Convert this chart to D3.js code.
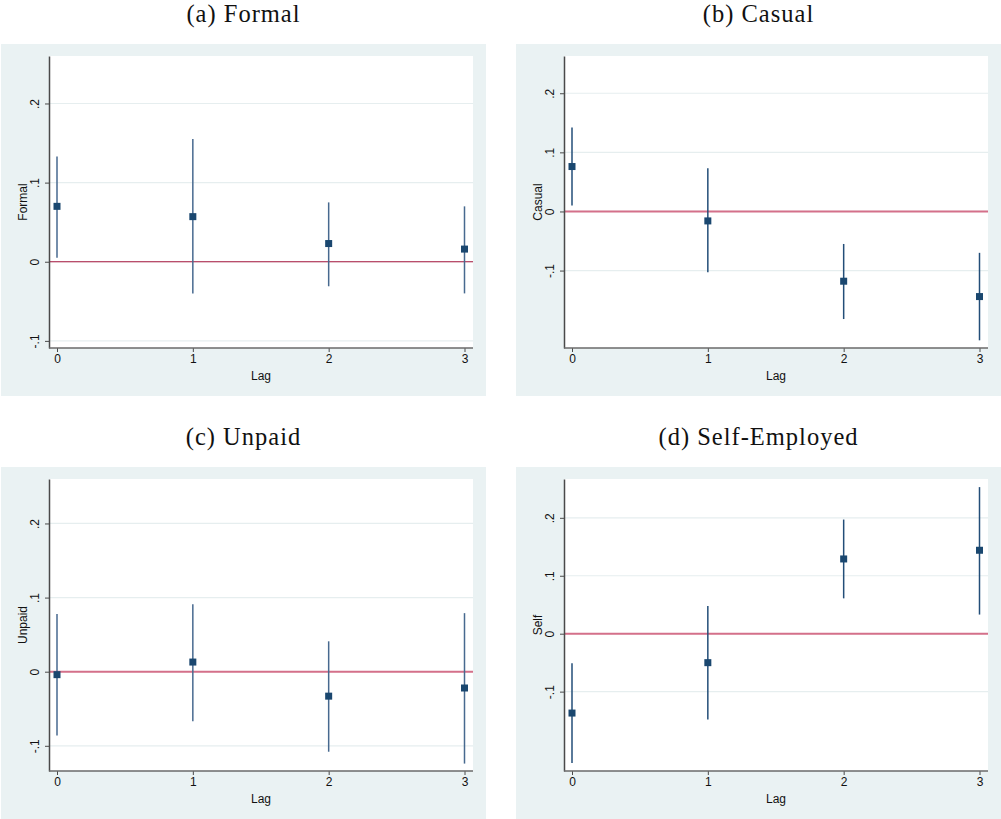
<!DOCTYPE html>
<html>
<head>
<meta charset="utf-8">
<script src="https://cdn.jsdelivr.net/npm/d3@7"></script>
<style>
  body { margin: 0; background: #fff; }
  svg { display: block; }
</style>
</head>
<body>
<div id="chart"></div>
<script>
// data
var LAGS = [0, 1, 2, 3];
var PANEL_TITLES = ["(a) Formal", "(b) Casual", "(c) Unpaid", "(d) Self-Employed"];
var Y_LABELS = ["Formal", "Casual", "Unpaid", "Self"];
var Y_TICKS = [-0.1, 0, 0.1, 0.2];
var Y_TICK_LABELS = ["-.1", "0", ".1", ".2"];
var X_LABEL = "Lag";

var FORMAL_COEF = [0.070, 0.057, 0.023, 0.016];
var FORMAL_LO   = [0.005, -0.040, -0.031, -0.040];
var FORMAL_HI   = [0.133, 0.155, 0.075, 0.070];

var CASUAL_COEF = [0.076, -0.016, -0.118, -0.144];
var CASUAL_LO   = [0.010, -0.103, -0.182, -0.218];
var CASUAL_HI   = [0.142, 0.073, -0.055, -0.070];

var UNPAID_COEF = [-0.004, 0.013, -0.033, -0.022];
var UNPAID_LO   = [-0.086, -0.067, -0.108, -0.124];
var UNPAID_HI   = [0.078, 0.091, 0.041, 0.079];

var SELF_COEF = [-0.137, -0.050, 0.129, 0.144];
var SELF_LO   = [-0.223, -0.148, 0.061, 0.033];
var SELF_HI   = [-0.051, 0.048, 0.197, 0.253];

// y ranges of each panel
var Y_MIN = [-0.109, -0.231, -0.134, -0.237];
var Y_MAX = [0.260, 0.263, 0.260, 0.267];

var COEFS = [FORMAL_COEF, CASUAL_COEF, UNPAID_COEF, SELF_COEF];
var LOWS = [FORMAL_LO, CASUAL_LO, UNPAID_LO, SELF_LO];
var HIGHS = [FORMAL_HI, CASUAL_HI, UNPAID_HI, SELF_HI];

///LAYOUT
var W = 1001, H = 819;
var boxX = [1, 516, 1, 516];
var boxY = [44, 44, 467, 467];
var boxW = 485, boxH = 352;
var plotL = 48, plotT = 12, plotW = 424, plotH = 292;

var bg = "#eaf2f3";
var navy = "#1a476f";
var zeroStyle = [
  {color: "#a8173f", width: 1.2},
  {color: "#d4708a", width: 2},
  {color: "#d4708a", width: 2},
  {color: "#d4708a", width: 2}
];
var ciColor = ["#47698f", "#234e78", "#47698f", "#234e78"];

var svg = d3.select("#chart")
    .append("svg")
    .attr("width", W)
    .attr("height", H);

svg.append("rect").attr("width", W).attr("height", H).attr("fill", "#fff");

var x = d3.scaleLinear().domain([0, 3]).range([8, plotW - 8.5]);

for (var i = 0; i < 4; i++) {
  drawPanel(i);
}

function drawPanel(i) {
  var gx = boxX[i], gy = boxY[i];

  // panel title above the box
  svg.append("text")
      .attr("x", gx + boxW / 2)
      .attr("y", gy - 22)
      .attr("text-anchor", "middle")
      .attr("font-family", "'Liberation Serif', 'DejaVu Serif', serif")
      .attr("font-size", 24.5)
      .attr("letter-spacing", 1)
      .attr("fill", "#111")
      .text(PANEL_TITLES[i]);

  var box = svg.append("g").attr("transform", "translate(" + gx + "," + gy + ")");
  box.append("rect")
      .attr("width", boxW)
      .attr("height", boxH)
      .attr("fill", bg);

  var g = box.append("g").attr("transform", "translate(" + plotL + "," + plotT + ")");
  g.append("rect")
      .attr("width", plotW)
      .attr("height", plotH)
      .attr("fill", "#fff");

  var y = d3.scaleLinear().domain([Y_MIN[i], Y_MAX[i]]).range([plotH, 0]);

  // grid
  g.selectAll("line.grid")
      .data(Y_TICKS)
      .enter()
      .append("line")
      .attr("class", "grid")
      .attr("x1", 0).attr("x2", plotW)
      .attr("y1", function(d) { return y(d); })
      .attr("y2", function(d) { return y(d); })
      .attr("stroke", "#e6eeef")
      .attr("stroke-width", 1.2);

  // zero line
  g.append("line")
      .attr("x1", 0).attr("x2", plotW)
      .attr("y1", y(0)).attr("y2", y(0))
      .attr("stroke", zeroStyle[i].color)
      .attr("stroke-width", zeroStyle[i].width);

  var pts = LAGS.map(function(l, k) {
    return {lag: l, b: COEFS[i][k], lo: LOWS[i][k], hi: HIGHS[i][k]};
  });

  g.selectAll("line.ci")
      .data(pts)
      .enter()
      .append("line")
      .attr("class", "ci")
      .attr("x1", function(d) { return x(d.lag); })
      .attr("x2", function(d) { return x(d.lag); })
      .attr("y1", function(d) { return y(d.lo); })
      .attr("y2", function(d) { return y(d.hi); })
      .attr("stroke", ciColor[i])
      .attr("stroke-width", 1.5);

  g.selectAll("rect.pt")
      .data(pts)
      .enter()
      .append("rect")
      .attr("class", "pt")
      .attr("x", function(d) { return x(d.lag) - 3.5; })
      .attr("y", function(d) { return y(d.b) - 3.5; })
      .attr("width", 7)
      .attr("height", 7)
      .attr("fill", navy);

  // y axis
  var yAxis = d3.axisLeft(y)
      .tickValues(Y_TICKS)
      .tickFormat(function(d, k) { return Y_TICK_LABELS[k]; })
      .tickSize(4)
      .tickSizeOuter(0);
  var ya = g.append("g").call(yAxis);
  ya.select(".domain").attr("stroke", "#4a4a4a").attr("stroke-width", 1.5);
  ya.selectAll(".tick line").attr("stroke", "#4a4a4a");
  ya.selectAll(".tick text")
      .attr("transform", "rotate(-90)")
      .attr("x", 0)
      .attr("y", -10)
      .attr("dy", null)
      .attr("text-anchor", "middle")
      .attr("font-family", "'Liberation Sans', Arial, sans-serif")
      .attr("font-size", 12)
      .attr("fill", "#111");

  // x axis
  var xAxis = d3.axisBottom(x)
      .tickValues(LAGS)
      .tickFormat(d3.format("d"))
      .tickSize(4)
      .tickSizeOuter(0);
  var xa = g.append("g").attr("transform", "translate(0," + plotH + ")").call(xAxis);
  xa.select(".domain").remove();
  xa.append("line")
      .attr("x1", 0).attr("x2", plotW)
      .attr("stroke", "#6a6a6a")
      .attr("stroke-width", 1.5);
  xa.selectAll(".tick line").attr("stroke", "#4a4a4a");
  xa.selectAll(".tick text")
      .attr("y", 6)
      .attr("font-family", "'Liberation Sans', Arial, sans-serif")
      .attr("font-size", 12)
      .attr("fill", "#111");

  // axis titles
  g.append("text")
      .attr("transform", "translate(-22," + (plotH / 2) + ") rotate(-90)")
      .attr("text-anchor", "middle")
      .attr("font-family", "'Liberation Sans', Arial, sans-serif")
      .attr("font-size", 12)
      .attr("fill", "#111")
      .text(Y_LABELS[i]);

  g.append("text")
      .attr("x", plotW / 2)
      .attr("y", plotH + 32)
      .attr("text-anchor", "middle")
      .attr("font-family", "'Liberation Sans', Arial, sans-serif")
      .attr("font-size", 12)
      .attr("fill", "#111")
      .text(X_LABEL);
}
</script>
</body>
</html>
